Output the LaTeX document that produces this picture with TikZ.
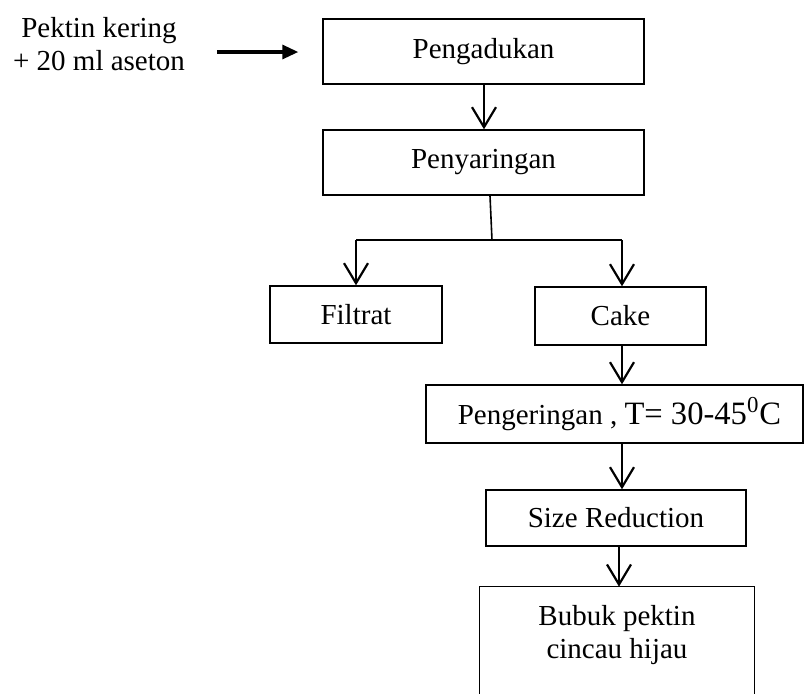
\documentclass[tikz,border=0pt]{standalone}
\usepackage{fontspec}
\setmainfont{Liberation Serif}
\usetikzlibrary{arrows.meta,fit}

\tikzset{
  box/.style={draw, line width=0.7pt, inner sep=0pt, align=center},
  flow/.style={line width=1.1pt, -{Straight Barb[length=10pt,width=12pt,line width=1.1pt]}},
  feed/.style={line width=1.6pt, -{Triangle[length=8pt,width=7pt]}},
  plain/.style={line width=1.1pt},
}

\begin{document}
\begin{tikzpicture}[x=0.5pt,y=-0.5pt,font=\fontsize{14.5}{16.5}\selectfont]
\useasboundingbox (0,0) rectangle (805,693);

% input material
\node[align=center] (input) at (99,44) {Pektin kering\\+ 20 ml aseton};

% process boxes
\node[box, fit={(323,19) (644,84)}] (aduk) {};
\node at (aduk.center) {Pengadukan};
\node[box, fit={(323,130) (644,195)}] (saring) {};
\node at (saring.center) {Penyaringan};
\node[box, fit={(270,286) (442,343)}] (filtrat) {};
\node at (filtrat.center) {Filtrat};
\node[box, fit={(535,287) (706,345)}] (cake) {};
\node at (cake.center) {Cake};
\node[box, fit={(426,385) (803,443)}] (kering) {};
\node at ([xshift=2.5pt]kering.center) {Pengeringan , {\fontsize{16.3}{18}\selectfont T= 30-45\textsuperscript{0}C}};
\node[box, fit={(486,490) (746,546)}] (size) {};
\node at (size.center) {Size Reduction};

% product box, open at the bottom
\node[inner sep=0pt, fit={(480,587) (754,700)}] (bubuk) {};
\draw[line width=0.7pt] (bubuk.south west) -- (bubuk.north west) -- (bubuk.north east) -- (bubuk.south east);
\node[align=center] (bubuktxt) at (617,635) {Bubuk pektin\\cincau hijau};

% split after filtering
\coordinate (split) at (492,240);
\coordinate (lsplit) at (356,240);
\coordinate (rsplit) at (622,240);

% connectors
\draw[feed, shorten <=12.5pt, shorten >=12pt] (input.east |- 0,52) -- (aduk.west |- 0,52);
\draw[flow] (aduk.south -| 484,0) -- (saring.north -| 484,0);
\draw[line width=0.8pt] (saring.south -| 490,0) -- (split);
\draw[plain] (lsplit) -- (rsplit);
\draw[flow] (lsplit) -- (filtrat.north -| lsplit);
\draw[flow] (rsplit) -- (cake.north -| rsplit);
\draw[flow] (cake.south -| 622,0) -- (kering.north -| 622,0);
\draw[flow] (kering.south -| 622,0) -- (size.north -| 622,0);
\draw[flow] (size.south -| 619,0) -- (bubuk.north -| 619,0);
\end{tikzpicture}
\end{document}
